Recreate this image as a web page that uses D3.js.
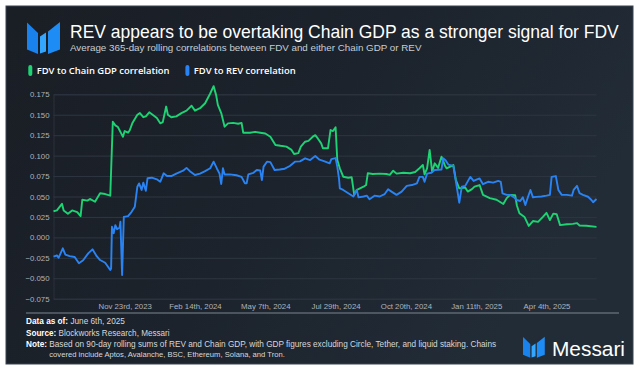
<!DOCTYPE html>
<html>
<head>
<meta charset="utf-8">
<script src="https://cdn.jsdelivr.net/npm/d3@7"></script>
<style>
  html, body { margin: 0; padding: 0; background: #ffffff; }
  svg { display: block; }
</style>
</head>
<body>
<div id="chart"></div>
<script>
// series: day offsets from the first date
var startDate = "2023-08-31";
var totalDays = 641;

var gdpDays = [0, 4, 10, 12, 17, 22, 28, 32, 34, 40, 43, 49, 55, 61, 67, 70, 73, 76, 82, 84, 88, 90, 93, 99, 102, 106, 109, 113, 117, 122, 126, 129, 133, 135, 139, 145, 151, 157, 163, 167, 173, 179, 185, 189, 192, 194, 198, 202, 206, 212, 218, 222, 224, 232, 238, 244, 250, 256, 262, 268, 275, 281, 284, 289, 292, 297, 301, 307, 309, 312, 316, 318, 324, 327, 330, 333, 335, 338, 342, 348, 352, 355, 358, 360, 366, 369, 371, 377, 385, 393, 397, 401, 405, 413, 421, 427, 432, 436, 438, 441, 444, 447, 450, 454, 458, 462, 464, 472, 475, 479, 486, 489, 494, 497, 503, 507, 515, 523, 531, 535, 539, 545, 547, 550, 556, 561, 566, 572, 578, 582, 586, 590, 594, 598, 606, 613, 618, 621, 629, 641];
var gdpValues = [0.032, 0.033, 0.041, 0.033, 0.029, 0.033, 0.031, 0.026, 0.046, 0.045, 0.047, 0.0436, 0.054, 0.053, 0.051, 0.1415, 0.137, 0.135, 0.123, 0.130, 0.128, 0.131, 0.1395, 0.150, 0.152, 0.147, 0.148, 0.153, 0.150, 0.146, 0.1395, 0.141, 0.160, 0.150, 0.147, 0.148, 0.152, 0.155, 0.161, 0.155, 0.158, 0.164, 0.176, 0.185, 0.174, 0.162, 0.152, 0.1354, 0.1395, 0.140, 0.139, 0.140, 0.128, 0.128, 0.129, 0.128, 0.127, 0.123, 0.113, 0.112, 0.111, 0.107, 0.102, 0.103, 0.111, 0.117, 0.118, 0.124, 0.125, 0.121, 0.115, 0.109, 0.109, 0.1313, 0.130, 0.1346, 0.0946, 0.0845, 0.0742, 0.073, 0.0735, 0.052, 0.058, 0.059, 0.062, 0.064, 0.0784, 0.0775, 0.078, 0.0775, 0.0765, 0.0816, 0.078, 0.079, 0.0784, 0.080, 0.0845, 0.0885, 0.077, 0.0845, 0.107, 0.080, 0.0906, 0.085, 0.0987, 0.088, 0.0845, 0.0885, 0.0702, 0.060, 0.061, 0.056, 0.059, 0.062, 0.064, 0.052, 0.048, 0.046, 0.0408, 0.048, 0.052, 0.0515, 0.039, 0.0295, 0.025, 0.014, 0.020, 0.019, 0.0253, 0.030, 0.0212, 0.029, 0.0283, 0.015, 0.016, 0.0165, 0.0175, 0.0145, 0.0142, 0.0129];

var revDays = [0, 4, 6, 11, 14, 19, 25, 30, 35, 41, 46, 51, 55, 61, 67, 68, 69, 71, 73, 75, 78, 79, 81, 83, 88, 92, 96, 99, 101, 104, 106, 109, 111, 116, 122, 126, 130, 134, 139, 145, 153, 157, 161, 167, 173, 179, 185, 189, 193, 196, 198, 200, 202, 208, 216, 222, 226, 228, 230, 236, 240, 244, 246, 248, 252, 256, 261, 267, 273, 279, 285, 291, 297, 303, 309, 314, 320, 326, 328, 333, 335, 337, 338, 342, 348, 354, 358, 360, 366, 370, 373, 379, 385, 391, 395, 399, 405, 411, 417, 423, 429, 432, 436, 438, 441, 446, 450, 458, 460, 463, 466, 472, 476, 479, 482, 486, 492, 496, 500, 503, 507, 509, 513, 519, 525, 528, 530, 535, 539, 543, 547, 551, 554, 557, 560, 563, 566, 570, 576, 582, 586, 588, 593, 596, 600, 606, 612, 614, 618, 621, 625, 631, 635, 637, 641];
var revValues = [-0.0236, -0.022, -0.025, -0.0134, -0.021, -0.023, -0.024, -0.0317, -0.028, -0.0195, -0.0146, -0.023, -0.0277, -0.031, -0.040, -0.038, 0.0131, 0.005, 0.015, 0.010, 0.012, 0.0192, -0.046, 0.025, 0.026, 0.031, 0.0375, 0.062, 0.066, 0.058, 0.067, 0.057, 0.0723, 0.073, 0.071, 0.068, 0.0784, 0.075, 0.075, 0.078, 0.0816, 0.085, 0.081, 0.0763, 0.078, 0.081, 0.0845, 0.0926, 0.084, 0.078, 0.0653, 0.0845, 0.077, 0.077, 0.076, 0.074, 0.0662, 0.066, 0.077, 0.079, 0.0824, 0.082, 0.070, 0.0865, 0.0926, 0.092, 0.0824, 0.083, 0.084, 0.0873, 0.0926, 0.093, 0.0967, 0.0946, 0.0995, 0.095, 0.093, 0.0906, 0.0958, 0.097, 0.0865, 0.0723, 0.060, 0.058, 0.054, 0.050, 0.058, 0.049, 0.050, 0.051, 0.0466, 0.051, 0.050, 0.053, 0.0588, 0.056, 0.052, 0.056, 0.063, 0.064, 0.066, 0.074, 0.074, 0.068, 0.078, 0.079, 0.0824, 0.083, 0.0967, 0.094, 0.089, 0.0875, 0.062, 0.0424, 0.062, 0.063, 0.074, 0.069, 0.071, 0.072, 0.065, 0.066, 0.068, 0.067, 0.069, 0.068, 0.0539, 0.052, 0.052, 0.0495, 0.0457, 0.0445, 0.049, 0.0396, 0.049, 0.058, 0.049, 0.0495, 0.050, 0.051, 0.052, 0.074, 0.075, 0.058, 0.052, 0.052, 0.051, 0.058, 0.063, 0.054, 0.052, 0.0497, 0.0457, 0.043, 0.047];

var yTicks = [-0.075, -0.05, -0.025, 0, 0.025, 0.05, 0.075, 0.1, 0.125, 0.15, 0.175];
var xTickDates = ["2023-11-23", "2024-02-14", "2024-05-07", "2024-07-29", "2024-10-20", "2025-01-11", "2025-04-04"];

var seriesNames = ["FDV to Chain GDP correlation", "FDV to REV correlation"];
var seriesColors = ["#1fd374", "#2a83f2"];

var W = 640, H = 371;
var margin = {left: 53.5, right: 596.5, top: 94.3, bottom: 298.7};
var font = "'Liberation Sans', Arial, sans-serif";

var parse = d3.utcParse("%Y-%m-%d");
var t0 = parse(startDate);

function toPoints(days, values) {
  return days.map(function(d, i) { return {date: d3.utcDay.offset(t0, d), value: values[i]}; });
}

function ordinal(n) {
  if (n % 100 >= 11 && n % 100 <= 13) return n + "th";
  var s = {1: "st", 2: "nd", 3: "rd"}[n % 10];
  return n + (s || "th");
}
function fmtDate(d) {
  return d3.utcFormat("%b")(d) + " " + ordinal(d.getUTCDate()) + ", " + d.getUTCFullYear();
}

// shrink or grow a text to a measured width
function fit(sel, width) {
  var size = +sel.attr("font-size");
  var w = sel.node().getComputedTextLength();
  sel.attr("font-size", (size * width / w).toFixed(2));
  return sel;
}

// the three-piece blue mark, drawn in a 33x32 box
function drawMark(g) {
  g.append("polygon").attr("points", "0,0 11,10.5 11,31.5 0,27").attr("fill", "#1a82ec");
  g.append("polygon").attr("points", "13,14 19,10 19,29 13,31").attr("fill", "#35a6ff");
  g.append("polygon").attr("points", "33,-0.5 21,9 21,31.5 33,27").attr("fill", "#1e8cf5");
}

var svg = d3.select("#chart").append("svg")
  .attr("width", W).attr("height", H);

var defs = svg.append("defs");
var bg = defs.append("linearGradient").attr("id", "bg")
  .attr("x1", "0").attr("y1", "0").attr("x2", "1").attr("y2", "0.4");
bg.append("stop").attr("offset", "0").attr("stop-color", "#1a1e25");
bg.append("stop").attr("offset", "0.55").attr("stop-color", "#1c232c");
bg.append("stop").attr("offset", "1").attr("stop-color", "#222c37");

svg.append("rect")
  .attr("x", 6).attr("y", 6).attr("width", 627).attr("height", 358)
  .attr("fill", "url(#bg)")
  .attr("stroke", "#3b4450").attr("stroke-width", 1);

drawMark(svg.append("g").attr("transform", "translate(27,22.5)"));

fit(svg.append("text")
  .attr("x", 70).attr("y", 37.5)
  .attr("font-family", font).attr("font-size", 16)
  .attr("fill", "#ffffff")
  .text("REV appears to be overtaking Chain GDP as a stronger signal for FDV"), 549);

fit(svg.append("text")
  .attr("x", 70).attr("y", 51)
  .attr("font-family", font).attr("font-size", 9)
  .attr("fill", "#c8cdd4")
  .text("Average 365-day rolling correlations between FDV and either Chain GDP or REV"), 352);

// legend
var legendX = [28.3, 185.4];
var legendW = [133, 102];
seriesNames.forEach(function(name, i) {
  svg.append("rect")
    .attr("x", legendX[i]).attr("y", 65).attr("width", 4).attr("height", 11)
    .attr("rx", 2).attr("fill", seriesColors[i]);
  fit(svg.append("text")
    .attr("x", legendX[i] + 8.4).attr("y", 74.3)
    .attr("font-family", "'Open Sans', sans-serif").attr("font-weight", 600)
    .attr("font-size", 9.5).attr("fill", "#ffffff")
    .text(name), legendW[i]);
});

var x = d3.scaleUtc()
  .domain([t0, d3.utcDay.offset(t0, totalDays)])
  .range([margin.left, margin.right]);

var y = d3.scaleLinear()
  .domain([-0.075, 0.175])
  .range([margin.bottom, margin.top]);

// grid + y labels
var yAxis = d3.axisLeft(y).tickValues(yTicks).tickFormat(d3.format(".3f"))
  .tickSize(-(margin.right - margin.left)).tickPadding(4);
var gy = svg.append("g")
  .attr("transform", "translate(" + margin.left + ",0)")
  .call(yAxis);
gy.select(".domain").attr("stroke", "#2a313a");
gy.selectAll(".tick line").attr("stroke", "#2e3640").attr("stroke-width", 1);
gy.selectAll(".tick text")
  .attr("font-family", font).attr("font-size", 7.8).attr("fill", "#aeb4bc")
  .text(function(d) { return d3.format(".3f")(d).replace("-", "\u2212"); });

var xAxis = d3.axisBottom(x)
  .tickValues(xTickDates.map(parse))
  .tickFormat(fmtDate).tickSize(0).tickPadding(5);
var gx = svg.append("g")
  .attr("transform", "translate(0," + margin.bottom + ")")
  .call(xAxis);
gx.select(".domain").remove();
gx.selectAll(".tick text")
  .attr("font-family", font).attr("font-size", 7.8).attr("fill", "#aeb4bc");

var line = d3.line()
  .x(function(d) { return x(d.date); })
  .y(function(d) { return y(d.value); });

var series = [toPoints(gdpDays, gdpValues), toPoints(revDays, revValues)];
// blue drawn last, it sits over green in the reference
[0, 1].forEach(function(i) {
  svg.append("path")
    .datum(series[i])
    .attr("fill", "none")
    .attr("stroke", seriesColors[i])
    .attr("stroke-width", 1.9)
    .attr("stroke-linejoin", "round")
    .attr("d", line);
});

// footer
svg.append("line")
  .attr("x1", 26).attr("x2", 619).attr("y1", 313).attr("y2", 313)
  .attr("stroke", "#7d8690").attr("stroke-width", 1);

function footLine(yPos, bold, rest, width, xPos) {
  var t = svg.append("text")
    .attr("x", xPos || 26).attr("y", yPos)
    .attr("font-family", font).attr("font-size", 8).attr("fill", "#d4d8dd");
  if (bold) t.append("tspan").attr("font-weight", "bold").attr("fill", "#ffffff").text(bold + " ");
  t.append("tspan").text(rest);
  fit(t, width);
}
footLine(324.3, "Data as of:", "June 6th, 2025", 99);
footLine(335.7, "Source:", "Blockworks Research, Messari", 144);
footLine(346.7, "Note:", "Based on 90-day rolling sums of REV and Chain GDP, with GDP figures excluding Circle, Tether, and liquid staking. Chains", 470);
footLine(356.7, null, "covered include Aptos, Avalanche, BSC, Ethereum, Solana, and Tron.", 236, 49.3);

drawMark(svg.append("g").attr("transform", "translate(523,337) scale(0.66)"));

fit(svg.append("text")
  .attr("x", 552).attr("y", 356)
  .attr("font-family", font).attr("font-size", 21)
  .attr("fill", "#ffffff")
  .text("Messari"), 73);
</script>
</body>
</html>
